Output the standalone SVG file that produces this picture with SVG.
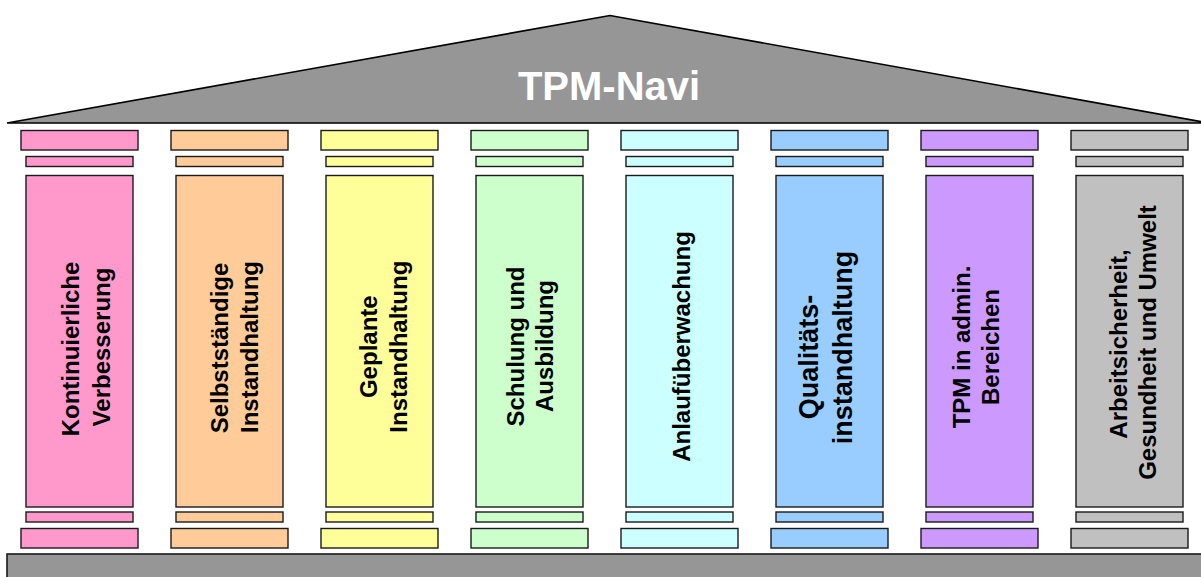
<svg xmlns="http://www.w3.org/2000/svg" width="1201" height="577" viewBox="0 0 1201 577">
  <style>
    .edge { stroke: #1a1a1a; stroke-width: 1.4; }
    .label { font-family: "Liberation Sans", Arial, sans-serif; font-weight: bold; font-size: 24px; fill: #000; text-anchor: middle; }
    .large { font-size: 27px; }
    .title { font-family: "Liberation Sans", Arial, sans-serif; font-weight: bold; font-size: 40px; fill: #fff; text-anchor: middle; }
    .p1 { fill: #FF99CC; } .p2 { fill: #FFCC99; } .p3 { fill: #FFFF99; } .p4 { fill: #CCFFCC; }
    .p5 { fill: #CCFFFF; } .p6 { fill: #99CCFF; } .p7 { fill: #CC99FF; } .p8 { fill: #C0C0C0; }
  </style>
  <defs>
    <!-- column: capital, neck band, shaft, lower band, plinth -->
    <g id="column">
      <rect class="edge" x="0" y="130.5" width="117" height="19.5"/>
      <rect class="edge" x="5" y="156.5" width="107" height="10"/>
      <rect class="edge" x="5" y="175.5" width="107" height="331.5"/>
      <rect class="edge" x="5" y="512" width="107" height="10"/>
      <rect class="edge" x="0" y="528.5" width="117" height="19.5"/>
    </g>
  </defs>
  <rect width="1201" height="577" fill="#fff"/>

  <!-- roof -->
  <g id="roof">
    <polygon points="7,123 610,15.5 1203,122 1203,123" fill="#969696" stroke="#000" stroke-width="1.6" stroke-linejoin="miter"/>
    <text class="title" x="609" y="100">TPM-Navi</text>
  </g>

  <!-- foundation -->
  <g id="foundation">
    <rect x="7" y="554" width="1200" height="30" fill="#969696" stroke="#1a1a1a" stroke-width="1.6"/>
  </g>

  <g id="pillar-1">
    <use href="#column" x="21" class="p1"/>
    <text class="label" transform="translate(79.3,349) rotate(-90)">Kontinuierliche</text>
    <text class="label" transform="translate(110,347) rotate(-90)">Verbesserung</text>
  </g>
  <g id="pillar-2">
    <use href="#column" x="171" class="p2"/>
    <text class="label" transform="translate(227.5,348) rotate(-90)">Selbstständige</text>
    <text class="label" transform="translate(257.7,347) rotate(-90)">Instandhaltung</text>
  </g>
  <g id="pillar-3">
    <use href="#column" x="321" class="p3"/>
    <text class="label" transform="translate(376.5,346.7) rotate(-90)">Geplante</text>
    <text class="label" transform="translate(407.3,346.7) rotate(-90)">Instandhaltung</text>
  </g>
  <g id="pillar-4">
    <use href="#column" x="471" class="p4"/>
    <text class="label" transform="translate(524.3,346.5) rotate(-90)">Schulung und</text>
    <text class="label" transform="translate(553.3,346) rotate(-90)">Ausbildung</text>
  </g>
  <g id="pillar-5">
    <use href="#column" x="621" class="p5"/>
    <text class="label" transform="translate(690,346.5) rotate(-90)">Anlaufüberwachung</text>
  </g>
  <g id="pillar-6">
    <use href="#column" x="771" class="p6"/>
    <text class="label large" transform="translate(818,357) rotate(-90)">Qualitäts-</text>
    <text class="label large" transform="translate(851.7,347.5) rotate(-90)">instandhaltung</text>
  </g>
  <g id="pillar-7">
    <use href="#column" x="921" class="p7"/>
    <text class="label" transform="translate(970,347) rotate(-90)">TPM in admin.</text>
    <text class="label" transform="translate(999,347) rotate(-90)">Bereichen</text>
  </g>
  <g id="pillar-8">
    <use href="#column" x="1071" class="p8"/>
    <text class="label" transform="translate(1127.3,344) rotate(-90)">Arbeitsicherheit,</text>
    <text class="label" transform="translate(1156,342.5) rotate(-90)">Gesundheit und Umwelt</text>
  </g>
</svg>
